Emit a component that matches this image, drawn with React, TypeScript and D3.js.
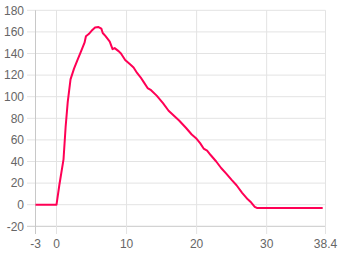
import React from "react";
import * as d3 from "d3";

const xs = [-3, 0, 0.4, 1.0, 1.3, 1.6, 2.0, 2.5, 3.0, 3.5, 4.0, 4.2, 4.6, 5.0, 5.5, 6.0, 6.4, 6.6, 7.0, 7.6, 8.0, 8.3, 8.9, 9.2, 9.8, 10.5, 11.0, 11.5, 12.0, 12.5, 13.0, 13.5, 14.3, 15.2, 16.0, 16.5, 17.5, 18.5, 19.3, 20.0, 20.5, 21.0, 21.5, 22.0, 22.8, 23.5, 24.2, 25.0, 25.7, 26.5, 27.3, 27.8, 28.3, 28.6, 38.0];
const ys = [0, 0, 18, 42, 72, 95, 116, 126, 134, 142, 150, 156, 158, 161, 164, 164.5, 163, 159, 156, 151, 144, 145, 142, 140, 134, 130, 127, 122, 118, 113, 108, 106, 101, 94, 87, 84, 78, 71, 65, 61, 57, 52, 50, 46, 40, 34, 29, 23, 18, 11, 5, 2, -2, -3, -3];
const xTicks = [-3, 0, 10, 20, 30, 38.4];
const yTicks = [-20, 0, 20, 40, 60, 80, 100, 120, 140, 160, 180];

export default function App() {
  const W = 340, H = 255;
  const x = d3.scaleLinear().domain([-3, 38.4]).range([35.5, 325.5]);
  const y = d3.scaleLinear().domain([-20, 180]).range([226.3, 10.3]);
  const data = xs.map((v, i) => [v, ys[i]] as [number, number]);
  const line = d3.line<[number, number]>().x(d => x(d[0])).y(d => y(d[1]));
  const font = "Liberation Sans, Arial, Helvetica, sans-serif";
  return (
    <svg width={W} height={H} style={{ position: "absolute", left: 0, top: 0 }}>
      {yTicks.map((t, i) => (
        <g key={"y" + t}>
          <line x1={27} x2={325.5} y1={y(t)} y2={y(t)} stroke={i === 0 ? "#c8c8c8" : "#e3e3e3"} strokeWidth={1} />
          <text x={24} y={y(t)} dy="0.35em" textAnchor="end" fontSize={12} fill="#666" fontFamily={font}>{t}</text>
        </g>
      ))}
      {xTicks.map((t, i) => (
        <g key={"x" + t}>
          <line x1={x(t)} x2={x(t)} y1={10.3} y2={234} stroke={i === 0 ? "#c8c8c8" : "#e3e3e3"} strokeWidth={1} />
          <text x={x(t)} y={244} dy="0.35em" textAnchor="middle" fontSize={12} fill="#666" fontFamily={font}>{t}</text>
        </g>
      ))}
      <path d={line(data) || ""} fill="none" stroke="#ff0055" strokeWidth={2} strokeLinejoin="round" />
    </svg>
  );
}
